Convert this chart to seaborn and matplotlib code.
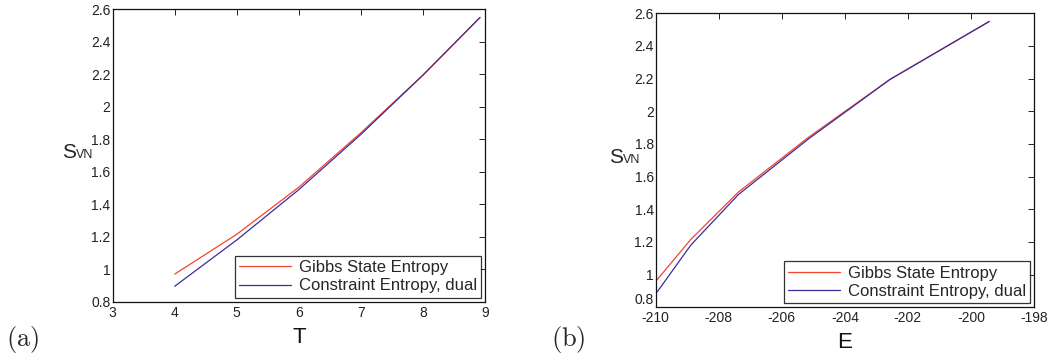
import numpy as np
import pandas as pd
import matplotlib
matplotlib.use("Agg")
import matplotlib.pyplot as plt
import seaborn as sns

sns.set_style("white")
plt.rcParams["font.family"] = ["Liberation Sans", "DejaVu Sans"]

# values
temps = [4.0, 5.0, 6.0, 7.0, 8.0, 8.92]
energies = [-209.95, -208.89, -207.38, -205.16, -202.57, -199.42]
gibbs = [0.97, 1.215, 1.505, 1.84, 2.195, 2.55]
constraint = [0.895, 1.18, 1.49, 1.83, 2.195, 2.55]

labels = ["Gibbs State Entropy", "Constraint Entropy, dual"]
colors = {"Gibbs State Entropy": "#f4442c",
          "Constraint Entropy, dual": "#3b2d9b"}

df = pd.DataFrame({
    "T": temps * 2,
    "E": energies * 2,
    "S": gibbs + constraint,
    "series": [labels[0]] * len(gibbs) + [labels[1]] * len(constraint),
})

fig = plt.figure(figsize=(10.5, 3.6), dpi=100)
ax_a = fig.add_axes([0.1073, 0.162, 0.3546, 0.812])
ax_b = fig.add_axes([0.6245, 0.1464, 0.3603, 0.8167])


def style_axis(ax, xlim, xticks, xname, letter, lx, sx, sy, nudge_zero=False):
    ax.set_xlim(*xlim)
    ax.set_ylim(0.8, 2.6)
    ax.set_xticks(xticks)
    ax.set_yticks([0.8, 1, 1.2, 1.4, 1.6, 1.8, 2, 2.2, 2.4, 2.6])
    ax.set_yticklabels(["0.8", "1", "1.2", "1.4", "1.6", "1.8", "2",
                        "2.2", "2.4", "2.6"])
    ax.set_xticklabels([f"{t:g}" for t in xticks])
    ax.tick_params(direction="in", top=True, right=True, length=4.5,
                   width=0.7, labelsize=10, colors="#222222")
    ax.tick_params(axis="x", pad=3)
    ax.tick_params(axis="y", pad=1.5)
    if nudge_zero:
        ax.get_yticklabels()[0].set_verticalalignment("bottom")
    for sp in ax.spines.values():
        sp.set_linewidth(0.9)
        sp.set_color("#111111")
    ax.set_xlabel(xname, fontsize=16, labelpad=5, color="#111111")
    ax.set_ylabel("")
    leg = ax.legend(loc="lower right", fontsize=12, frameon=True,
                    fancybox=False, edgecolor="black", borderpad=0.25,
                    handlelength=3.1, labelspacing=0.2,
                    borderaxespad=0.25, handletextpad=0.45)
    leg.get_frame().set_linewidth(0.9)
    fig.text(sx, sy, "S", fontsize=15, ha="left", va="baseline")
    fig.text(sx + 0.0135, sy, "VN", fontsize=9, ha="left", va="baseline")
    fig.text(lx, 0.04, r"$\mathrm{(" + letter + r")}$", fontsize=19,
             math_fontfamily="cm", ha="left", va="baseline")


sns.lineplot(data=df, x="T", y="S", hue="series", palette=colors,
             hue_order=labels, ax=ax_a, linewidth=0.9, sort=False)
style_axis(ax_a, (3, 9), [3, 4, 5, 6, 7, 8, 9], "T", "a",
           0.006, 0.059, 0.56)

sns.lineplot(data=df, x="E", y="S", hue="series", palette=colors,
             hue_order=labels, ax=ax_b, linewidth=0.9, sort=False)
style_axis(ax_b, (-210, -198), [-210, -208, -206, -204, -202, -200, -198],
           "E", "b", 0.5245, 0.58, 0.548, nudge_zero=True)

fig.savefig("out.png", dpi=100)
